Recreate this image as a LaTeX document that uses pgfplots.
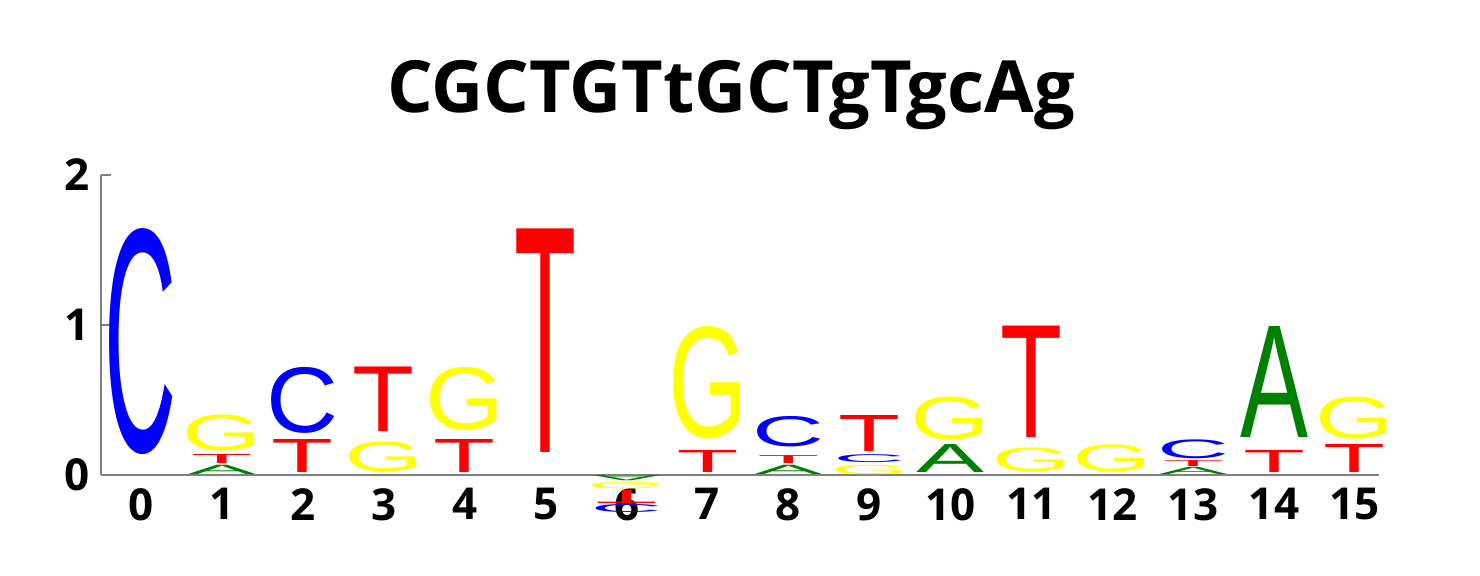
\documentclass[border=0pt]{standalone}
\usepackage{fontspec}
\usepackage{graphicx}
\usepackage{pgfplots}
\usepackage{pgfplotstable}
\pgfplotsset{compat=1.18}
\setmainfont{Open Sans}
\newfontfamily\logofont{Liberation Sans}

\definecolor{logoA}{RGB}{0,128,0}
\definecolor{logoC}{RGB}{0,0,255}
\definecolor{logoG}{RGB}{255,255,0}
\definecolor{logoT}{RGB}{255,0,0}

% one table per base: position, bottom, top, flip (-1 below zero)
\pgfplotstableread{
x  lo     hi     f
1  0.005  0.067  1
6  -0.040 -0.005 -1
8  0.005  0.067  1
10 0.020  0.207  1
13 0.005  0.053  1
14 0.247  0.987  1
}\dataA
\pgfplotstableread{
x  lo     hi     f
0  0.133  1.640  1
2  0.280  0.720  1
6  -0.247 -0.193 -1
8  0.190  0.393  1
9  0.080  0.133  1
13 0.107  0.233  1
}\dataC
\pgfplotstableread{
x  lo     hi     f
1  0.160  0.400  1
3  0.020  0.220  1
4  0.300  0.720  1
6  -0.093 -0.050 -1
7  0.240  0.990  1
9  0.005  0.067  1
10 0.233  0.520  1
11 0.020  0.180  1
12 0.020  0.200  1
15 0.240  0.520  1
}\dataG
\pgfplotstableread{
x  lo     hi     f
1  0.080  0.140  1
2  0.020  0.240  1
3  0.290  0.720  1
4  0.020  0.240  1
5  0.150  1.640  1
6  -0.187 -0.100 -1
7  0.020  0.167  1
8  0.080  0.133  1
9  0.160  0.400  1
11 0.247  0.990  1
13 0.060  0.100  1
14 0.020  0.167  1
15 0.020  0.207  1
}\dataT

% #1 letter, #2 box width (pt) so that the inked parts come out alike
\pgfplotsset{
    logo letter/.style 2 args={
        draw=none, mark=none,
        visualization depends on={\thisrow{f} \as \lflip},
        visualization depends on={75*(\thisrow{hi}-\thisrow{lo}) \as \lhgt},
        nodes near coords={\resizebox*{#2}{\lhgt pt}{\scalebox{1}[\lflip]{\color{logo#1}\logofont #1}}},
        every node near coord/.style={anchor=south, inner sep=0pt, outer sep=0pt},
    },
}

\begin{document}
\begin{tikzpicture}
\begin{axis}[
    at={(0,0)}, anchor=origin,
    x=40.465pt, y=75pt,
    xmin=-0.5, xmax=15.3,
    ymin=0, ymax=2,
    clip=false,
    axis x line=bottom, axis y line=left,
    axis line style={-, draw=gray, line width=1pt},
    xtick={0,...,15}, ytick={0,1,2},
    xtick style={draw=none},
    ytick style={draw=gray, line width=1pt},
    tick align=inside, major tick length=5pt,
    tick label style={font=\fontsize{22}{22}\selectfont\bfseries},
    /pgf/number format/assume math mode=true,
    xticklabel style={anchor=north, inner sep=0pt, yshift=-6.5pt},
    yticklabel style={anchor=east, inner sep=0pt, xshift=-5.3pt},
]
\addplot[logo letter={A}{34pt}] table[x=x, y=lo] {\dataA};
\addplot[logo letter={C}{36pt}] table[x=x, y=lo] {\dataC};
\addplot[logo letter={G}{39.5pt}] table[x=x, y=lo] {\dataG};
\addplot[logo letter={T}{31pt}] table[x=x, y=lo] {\dataT};
\end{axis}
\node[anchor=base, inner sep=0pt, font=\fontsize{36}{36}\selectfont\bfseries] at (295pt,181.5pt) {CGCTGTtGCTgTgcAg};
\pgfresetboundingbox
\path (-70.5pt,-50pt) rectangle (669.5pt,237.5pt);
\end{tikzpicture}
\end{document}
